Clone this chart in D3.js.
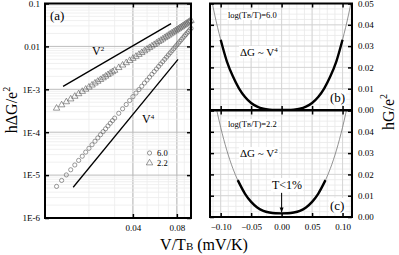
<!DOCTYPE html>
<meta charset="utf-8">
<head>
  <style>
  body { margin: 0; background: #fff; }
  text { font-family: "Liberation Serif", serif; fill: #000; }
  .tick text { font-size: 9px; }
  </style>
</head>
<html>
  <body>
    <svg width="399" height="255"></svg>
  </body>
</html>
<script src="https://cdn.jsdelivr.net/npm/d3@7"></script>
<script>
// ---- panel (a) data: V/TB (mV/K) and h dG/e^2 ----
var vTB = [0.012,0.013,0.014,0.015,0.016,0.017,0.018,0.019,0.020,0.021,0.022,0.023,0.024,0.025,0.026,0.027,0.028,0.029,0.030,
  0.032,0.034,0.036,0.038,0.040,0.042,0.044,0.046,0.048,0.050,0.052,0.054,0.056,0.058,0.060,0.062,0.064,0.066,0.068,
  0.070,0.072,0.074,0.076,0.078,0.080,0.082,0.084,0.086,0.088,0.090,0.092,0.094,0.096,0.098,0.100];
var dG60 = [5.45e-6,7.51e-6,1.01e-5,1.33e-5,1.72e-5,2.20e-5,2.76e-5,3.43e-5,4.21e-5,5.11e-5,6.16e-5,7.36e-5,8.73e-5,1.03e-4,1.20e-4,1.40e-4,1.62e-4,1.86e-4,2.13e-4,
  2.76e-4,3.51e-4,4.42e-4,5.48e-4,6.73e-4,8.18e-4,9.86e-4,1.18e-3,1.40e-3,1.64e-3,1.92e-3,2.24e-3,2.59e-3,2.98e-3,3.41e-3,3.89e-3,4.41e-3,4.99e-3,5.62e-3,
  6.31e-3,7.07e-3,7.89e-3,8.77e-3,9.73e-3,1.08e-2,1.19e-2,1.31e-2,1.44e-2,1.58e-2,1.73e-2,1.88e-2,2.05e-2,2.23e-2,2.43e-2,2.63e-2];
var dG22 = [3.61e-4,4.31e-4,5.09e-4,5.93e-4,6.84e-4,7.83e-4,8.89e-4,1.00e-3,1.12e-3,1.25e-3,1.39e-3,1.53e-3,1.68e-3,1.84e-3,2.01e-3,2.19e-3,2.37e-3,2.56e-3,2.76e-3,
  3.19e-3,3.65e-3,4.14e-3,4.67e-3,5.23e-3,5.83e-3,6.46e-3,7.14e-3,7.84e-3,8.59e-3,9.37e-3,1.02e-2,1.10e-2,1.19e-2,1.29e-2,1.38e-2,1.48e-2,1.59e-2,1.70e-2,
  1.81e-2,1.93e-2,2.05e-2,2.18e-2,2.30e-2,2.44e-2,2.57e-2,2.72e-2,2.86e-2,3.01e-2,3.17e-2,3.32e-2,3.49e-2,3.65e-2,3.83e-2,4.00e-2];
// guide lines (end points)
var guideV2 = [[0.0133, 1.17e-3], [0.073, 0.034]];
var guideV4 = [[0.0156, 5.2e-6], [0.0815, 5.0e-3]];
var yTicksA = [1e-6, 1e-5, 1e-4, 1e-3, 0.01, 0.1];
var yTickLabelsA = ["1E-6", "1E-5", "1E-4", "1E-3", "0.01", "0.1"];
var xTicksA = [0.04, 0.08];

// ---- panels (b) and (c): V/TB (mV/K) and hG/e^2 ----
var vB = [-0.115,-0.11,-0.10,-0.09,-0.08,-0.07,-0.06,-0.05,-0.04,-0.03,-0.02,-0.01,0,0.01,0.02,0.03,0.04,0.05,0.06,0.07,0.08,0.09,0.10,0.11,0.115];
var gB = [0.052,0.045,0.033,0.023,0.0158,0.0102,0.0061,0.0033,0.0016,0.0006,0.00016,0.00002,0,0.00002,0.00016,0.0006,0.0016,0.0033,0.0061,0.0102,0.0158,0.023,0.033,0.045,0.052];
var vC = [-0.11,-0.10,-0.09,-0.08,-0.072,-0.06,-0.05,-0.04,-0.03,-0.02,-0.01,0,0.01,0.02,0.03,0.04,0.05,0.06,0.072,0.08,0.09,0.10,0.11];
var gC = [0.0549,0.0421,0.0314,0.0228,0.0173,0.0109,0.0071,0.0045,0.0029,0.0021,0.00175,0.0017,0.00175,0.0021,0.0029,0.0045,0.0071,0.0109,0.0173,0.0228,0.0314,0.0421,0.0549];
var boldB = [-0.10, 0.10];
var boldC = [-0.072, 0.072];
var xTicksBC = [-0.10, -0.05, 0, 0.05, 0.10];
var yTicksBC = [0, 0.01, 0.02, 0.03, 0.04, 0.05];

var svg = d3.select("svg");

// ================= panel (a) =================
var xA = d3.scaleLog().domain([0.01, 0.1]).range([45, 191]);
var yA = d3.scaleLog().domain([1e-6, 0.1]).range([218, 3.5]);

var gA = svg.append("g");
var minorX = [];
for (var i = 2; i <= 9; i++) minorX.push(i / 100);
var minorY = [];
yTicksA.slice(0, -1).forEach(function(d) {
  for (var k = 2; k <= 9; k++) minorY.push(d * k);
});

gA.selectAll(".mx").data(minorX).enter().append("line")
    .attr("x1", xA).attr("x2", xA).attr("y1", 3.5).attr("y2", 218)
    .attr("stroke", function(d) { return xTicksA.indexOf(d) >= 0 ? "#bdbdbd" : "#ececec"; })
    .attr("stroke-width", function(d) { return xTicksA.indexOf(d) >= 0 ? 1.2 : 0.8; });
gA.selectAll(".my").data(minorY).enter().append("line")
    .attr("x1", 45).attr("x2", 191).attr("y1", yA).attr("y2", yA)
    .attr("stroke", "#ececec").attr("stroke-width", 0.8);
gA.selectAll(".My").data(yTicksA).enter().append("line")
    .attr("x1", 45).attr("x2", 191).attr("y1", yA).attr("y2", yA)
    .attr("stroke", "#bdbdbd").attr("stroke-width", 1);

// guide lines
var lineA = d3.line().x(function(d) { return xA(d[0]); }).y(function(d) { return yA(d[1]); });
[guideV2, guideV4].forEach(function(p) {
  gA.append("path").attr("d", lineA(p)).attr("stroke", "#000").attr("stroke-width", 1.3).attr("fill", "none");
});

// data markers
var ptsA = vTB.map(function(v, i) { return {v: v, a: dG60[i], b: dG22[i]}; });
gA.selectAll(".c60").data(ptsA).enter().append("circle")
    .attr("cx", function(d) { return xA(d.v); })
    .attr("cy", function(d) { return yA(d.a); })
    .attr("r", 2.1)
    .attr("fill", "none").attr("stroke", "#555").attr("stroke-width", 0.6);
var tri = d3.symbol().type(d3.symbolTriangle).size(18);
gA.selectAll(".t22").data(ptsA).enter().append("path")
    .attr("d", tri)
    .attr("transform", function(d) { return "translate(" + xA(d.v) + "," + yA(d.b) + ")"; })
    .attr("fill", "none").attr("stroke", "#555").attr("stroke-width", 0.6);

// axes
gA.append("g").attr("transform", "translate(45,0)")
    .call(d3.axisLeft(yA).tickValues(yTicksA).tickSize(-4).tickPadding(5)
      .tickFormat(function(d, i) { return yTickLabelsA[i]; }));
gA.append("g").attr("transform", "translate(191,0)")
    .call(d3.axisRight(yA).tickValues(yTicksA).tickSize(-4).tickFormat(""));
gA.append("g").attr("transform", "translate(0,218)")
    .call(d3.axisBottom(xA).tickValues(xTicksA).tickSize(-4).tickPadding(7).tickFormat(d3.format(".2f")));
gA.append("g").attr("transform", "translate(0,3.5)")
    .call(d3.axisTop(xA).tickValues(xTicksA).tickSize(-4).tickFormat(""));
gA.selectAll(".domain").remove();
gA.selectAll(".tick line").attr("stroke", "#000").attr("stroke-width", 1.5);
gA.append("rect").attr("x", 45).attr("y", 3.5).attr("width", 146).attr("height", 214.5)
    .attr("fill", "none").attr("stroke", "#000").attr("stroke-width", 2);

// labels in (a)
gA.append("text").attr("x", 50).attr("y", 20).attr("font-size", 13).text("(a)");
var tV2 = gA.append("text").attr("x", 92).attr("y", 55).attr("font-size", 12).text("V");
tV2.append("tspan").attr("font-size", 7).attr("dy", -4).text("2");
var tV4 = gA.append("text").attr("x", 142).attr("y", 123).attr("font-size", 12).text("V");
tV4.append("tspan").attr("font-size", 7).attr("dy", -4).text("4");
gA.append("circle").attr("cx", xA(0.052)).attr("cy", 153).attr("r", 2.1)
    .attr("fill", "none").attr("stroke", "#555").attr("stroke-width", 0.6);
gA.append("path").attr("d", tri).attr("transform", "translate(" + xA(0.052) + ",163)")
    .attr("fill", "none").attr("stroke", "#555").attr("stroke-width", 0.6);
gA.append("text").attr("x", 157).attr("y", 156).attr("font-size", 8.5).text("6.0");
gA.append("text").attr("x", 157).attr("y", 166).attr("font-size", 8.5).text("2.2");

// ================= panels (b), (c) =================
var xBC = d3.scaleLinear().domain([-0.1175, 0.1155]).range([210, 352]);

function panel(top, bottom, vs, gs, bold, showTop, id) {
  var y = d3.scaleLinear().domain([0, 0.05]).range([bottom, top]);
  var g = svg.append("g");
  var mxs = d3.range(-0.1125, 0.115, 0.0125);
  var mys = d3.range(0.0025, 0.05, 0.0025);
  g.selectAll(".mx").data(mxs).enter().append("line")
      .attr("x1", xBC).attr("x2", xBC).attr("y1", top).attr("y2", bottom)
      .attr("stroke", "#e8e8e8").attr("stroke-width", 0.8);
  g.selectAll(".my").data(mys).enter().append("line")
      .attr("x1", 210).attr("x2", 352).attr("y1", y).attr("y2", y)
      .attr("stroke", "#e8e8e8").attr("stroke-width", 0.8);
  g.selectAll(".Mx").data(xTicksBC).enter().append("line")
      .attr("x1", xBC).attr("x2", xBC).attr("y1", top).attr("y2", bottom)
      .attr("stroke", "#d0d0d0").attr("stroke-width", 0.8);
  g.selectAll(".My").data(yTicksBC).enter().append("line")
      .attr("x1", 210).attr("x2", 352).attr("y1", y).attr("y2", y)
      .attr("stroke", "#d0d0d0").attr("stroke-width", 0.8);

  svg.append("clipPath").attr("id", id).append("rect")
      .attr("x", 210).attr("y", top).attr("width", 142).attr("height", bottom - top);
  var pts = vs.map(function(v, i) { return [v, gs[i]]; });
  var ln = d3.line().x(function(d) { return xBC(d[0]); }).y(function(d) { return y(d[1]); })
      .curve(d3.curveMonotoneX);
  g.append("path").attr("d", ln(pts)).attr("clip-path", "url(#" + id + ")")
      .attr("fill", "none").attr("stroke", "#777").attr("stroke-width", 0.8);
  var boldPts = pts.filter(function(d) { return d[0] >= bold[0] - 1e-9 && d[0] <= bold[1] + 1e-9; });
  g.append("path").attr("d", ln(boldPts)).attr("clip-path", "url(#" + id + ")")
      .attr("fill", "none").attr("stroke", "#000").attr("stroke-width", 2.4);

  var yVals = showTop ? yTicksBC : yTicksBC.slice(0, -1);
  g.append("g").attr("transform", "translate(352,0)")
      .call(d3.axisRight(y).tickValues(yTicksBC).tickSize(-4).tickPadding(6)
        .tickFormat(function(d) { return yVals.indexOf(d) >= 0 ? d3.format(".2f")(d) : ""; }));
  g.append("g").attr("transform", "translate(210,0)")
      .call(d3.axisLeft(y).tickValues(yTicksBC).tickSize(-4).tickFormat(""));
  g.append("g").attr("transform", "translate(0," + top + ")")
      .call(d3.axisTop(xBC).tickValues(xTicksBC).tickSize(-4).tickFormat(""));
  var bx = g.append("g").attr("transform", "translate(0," + bottom + ")")
      .call(d3.axisBottom(xBC).tickValues(xTicksBC).tickSize(-4).tickPadding(7).tickFormat(d3.format(".2f")));
  if (showTop) bx.selectAll("text").remove();
  g.selectAll(".domain").remove();
  g.selectAll(".tick line").attr("stroke", "#000").attr("stroke-width", 1.5);
  g.append("rect").attr("x", 210).attr("y", top).attr("width", 142).attr("height", bottom - top)
      .attr("fill", "none").attr("stroke", "#000").attr("stroke-width", 2);
  return {g: g, y: y};
}

function boxText(g, x, y, size, build) {
  var t = g.append("text").attr("x", x).attr("y", y).attr("font-size", size);
  build(t);
  var bb = t.node().getBBox();
  g.insert("rect", function() { return t.node(); })
      .attr("x", bb.x - 1).attr("y", bb.y).attr("width", bb.width + 2).attr("height", bb.height)
      .attr("fill", "#fff");
  return t;
}
function logLabel(t, val) {
  t.append("tspan").text("log(T");
  t.append("tspan").attr("font-size", 6).text("B");
  t.append("tspan").text("/T)=" + val);
}
function dgLabel(t, p) {
  t.append("tspan").text("\u0394G ~ V");
  t.append("tspan").attr("font-size", 7).attr("dy", -4).text(p);
}

var pB = panel(3.5, 110, vB, gB, boldB, true, "clipB");
var pC = panel(110.5, 217, vC, gC, boldC, false, "clipC");

boxText(pB.g, 228, 18, 8.5, function(t) { logLabel(t, "6.0"); });
boxText(pB.g, 240, 56, 11, function(t) { dgLabel(t, "4"); });
boxText(pB.g, 330, 102, 13, function(t) { t.text("(b)"); });
boxText(pC.g, 228, 127, 8.5, function(t) { logLabel(t, "2.2"); });
boxText(pC.g, 240, 157, 11, function(t) { dgLabel(t, "2"); });
boxText(pC.g, 272, 189, 12, function(t) { t.text("T<1%"); });
boxText(pC.g, 330, 210, 13, function(t) { t.text("(c)"); });

// arrow to the minimum
svg.append("defs").append("marker").attr("id", "ah").attr("viewBox", "0 0 10 10")
    .attr("refX", 10).attr("refY", 5).attr("markerWidth", 5).attr("markerHeight", 5)
    .attr("orient", "auto").append("path").attr("d", "M0,1L10,5L0,9Z").attr("fill", "#000");
pC.g.append("line").attr("x1", xBC(0)).attr("x2", xBC(0))
    .attr("y1", 193).attr("y2", pC.y(gC[vC.indexOf(0)]) - 1)
    .attr("stroke", "#000").attr("stroke-width", 1).attr("marker-end", "url(#ah)");

// axis titles
svg.append("text").attr("transform", "translate(17,110) rotate(-90)")
    .attr("text-anchor", "middle").attr("font-size", 16)
    .text("h\u0394G/e").append("tspan").attr("font-size", 10).attr("dy", -7).text("2");
svg.append("text").attr("transform", "translate(394,112) rotate(-90)")
    .attr("text-anchor", "middle").attr("font-size", 16)
    .text("hG/e").append("tspan").attr("font-size", 10).attr("dy", -7).text("2");
var xt = svg.append("text").attr("x", 204).attr("y", 250).attr("text-anchor", "middle").attr("font-size", 16);
xt.append("tspan").text("V/T");
xt.append("tspan").attr("font-size", 11).text("B");
xt.append("tspan").text(" (mV/K)");
</script>
